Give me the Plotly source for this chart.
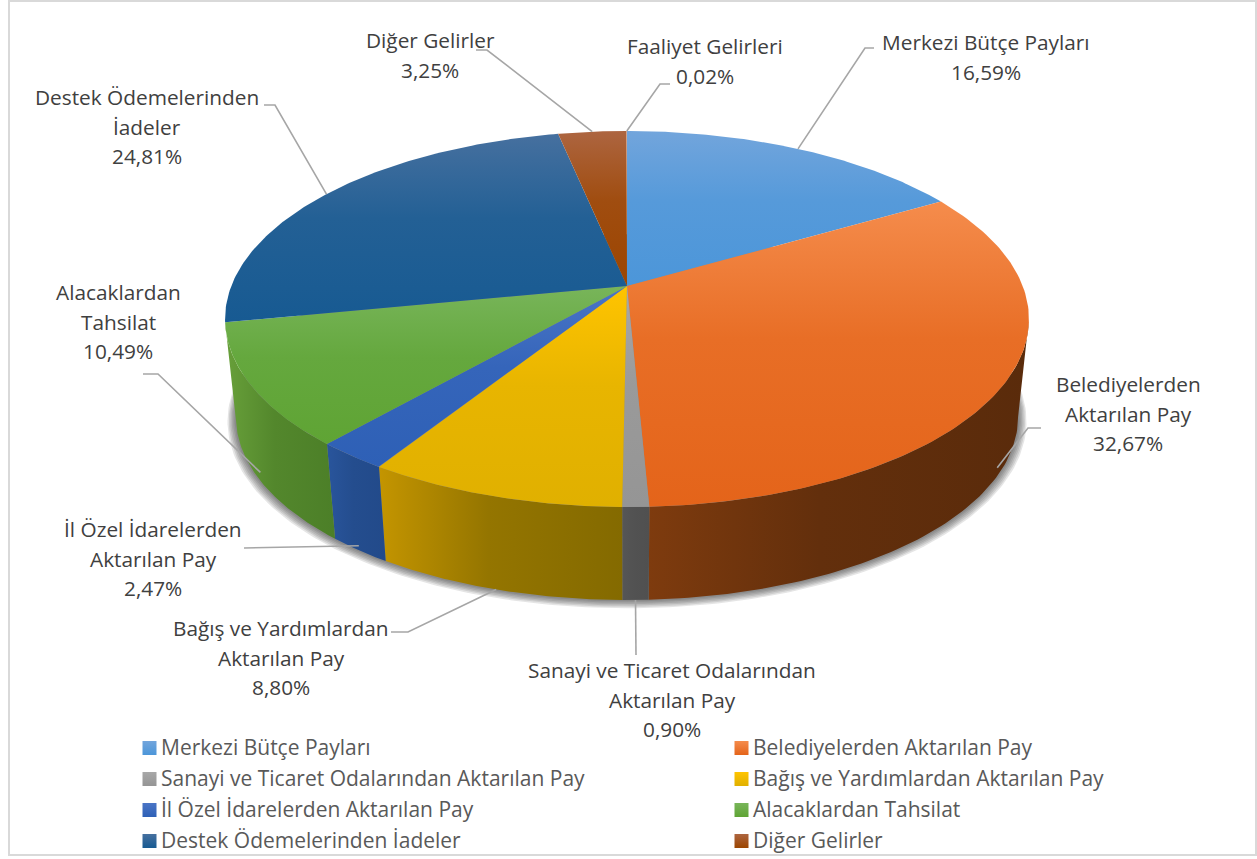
import numpy as np
import plotly.graph_objects as go

# ---- data (clockwise from 12 o'clock) ----
categories = ["Merkezi Bütçe Payları", "Belediyelerden Aktarılan Pay",
              "Sanayi ve Ticaret Odalarından Aktarılan Pay", "Bağış ve Yardımlardan Aktarılan Pay",
              "İl Özel İdarelerden Aktarılan Pay", "Alacaklardan Tahsilat",
              "Destek Ödemelerinden İadeler", "Diğer Gelirler", "Faaliyet Gelirleri"]
values = [16.59, 32.67, 0.90, 8.80, 2.47, 10.49, 24.81, 3.25, 0.02]
value_labels = ["16,59%", "32,67%", "0,90%", "8,80%", "2,47%", "10,49%", "24,81%", "3,25%", "0,02%"]
label_lines = [["Merkezi Bütçe Payları"], ["Belediyelerden", "Aktarılan Pay"],
               ["Sanayi ve Ticaret Odalarından", "Aktarılan Pay"], ["Bağış ve Yardımlardan", "Aktarılan Pay"],
               ["İl Özel İdarelerden", "Aktarılan Pay"], ["Alacaklardan", "Tahsilat"],
               ["Destek Ödemelerinden", "İadeler"], ["Diğer Gelirler"], ["Faaliyet Gelirleri"]]

# ---- styles ----
top_colors = [("#72A5DC", "#4C96D9"), ("#F58C4C", "#E4641A"), ("#A8A8A8", "#959595"), ("#FFC400", "#E0B000"),
              ("#4A75C6", "#2E60B6"), ("#78B55A", "#5FA434"), ("#46709F", "#175A92"), ("#AD6540", "#9C4500"),
              ("#5B5B5B", "#5B5B5B")]
wall_colors = [("#2F5F8F", "#2F5F8F"), ("#7E3B0E", "#5A2B0B"), ("#565656", "#505050"), ("#C49500", "#846A00"),
               ("#29559C", "#224A8A"), ("#68A03A", "#4C7F28"), ("#1C4A72", "#1C4A72"), ("#7A3608", "#7A3608"),
               ("#444444", "#444444")]
font_family = "Open Sans"
label_font_size = 20.8
legend_font_size = 21
text_color = "#404040"

# projection parameters: a circle seen in perspective
CX, CY = 627, 286
RX, RY, K = 395.7, 182.2, 0.1755
BASE_S, BASE_CY = 0.973, 385


def rim(theta, scale=1.0, cy=CY):
    u, v = np.sin(theta), np.cos(theta)
    d = 1 + K * v
    return CX + scale * RX * u / d, cy - scale * RY * v / d


def mix(c0, c1, f):
    a = [int(c0[i:i + 2], 16) for i in (1, 3, 5)]
    b = [int(c1[i:i + 2], 16) for i in (1, 3, 5)]
    return "rgb(%d,%d,%d)" % tuple(round(p + (q - p) * f) for p, q in zip(a, b))


cum = np.concatenate([[0], np.cumsum(values)]) / sum(values) * 2 * np.pi
fig = go.Figure()


def poly(x, y, colors, orient):
    x, y = np.asarray(x), np.asarray(y)
    lo, hi = (y.min(), y.max()) if orient == "vertical" else (x.min(), x.max())
    if colors[0] == colors[1] or hi - lo < 0.5:
        return go.Scatter(x=x, y=y, mode="lines", fill="toself", fillcolor=colors[0],
                          line=dict(width=0), hoverinfo="skip", showlegend=False)
    return go.Scatter(x=x, y=y, mode="lines", fill="toself",
                      fillgradient=dict(type=orient, start=lo, stop=hi,
                                        colorscale=[[0, colors[0]], [0.45, mix(colors[0], colors[1], 0.75)],
                                                    [1, colors[1]]]),
                      line=dict(width=0), hoverinfo="skip", showlegend=False)


# soft shadow under the base
all_t = np.linspace(0, 2 * np.pi, 361)
for i in range(6, 0, -1):
    sx, sy = rim(all_t, BASE_S + 0.0035 * i, BASE_CY + 0.6 * i)
    fig.add_trace(go.Scatter(x=sx, y=sy, mode="lines", fill="toself", fillcolor="rgba(40,40,40,0.12)",
                             line=dict(width=0), hoverinfo="skip", showlegend=False))

# side walls, only the part facing the viewer (between the two widest rim points)
W0, W1 = np.radians(100), cum[6]
for i in range(len(values)):
    a, b = max(cum[i], W0), min(cum[i + 1], W1)
    if b <= a:
        continue
    t = np.linspace(a, b, 80)
    x1, y1 = rim(t)
    x2, y2 = rim(t, BASE_S, BASE_CY)
    fig.add_trace(poly(np.r_[x1, x2[::-1], x1[0]], np.r_[y1, y2[::-1], y1[0]], wall_colors[i], "horizontal"))

# top faces
for i in range(len(values)):
    t = np.linspace(cum[i], cum[i + 1], 120)
    x1, y1 = rim(t)
    fig.add_trace(poly(np.r_[CX, x1, CX], np.r_[CY, y1, CY], top_colors[i], "vertical"))

# ---- data labels and leader lines ----
# label centre x, first-line centre y, leader elbow, leader end, position along the wall
label_layout = [
    (986, 42, (865, 48), (874, 48), 0),
    (1128, 384, (1028, 428), (1041, 428), 0.9),
    (672, 670, None, (636, 655), 1.0),
    (281, 628, (408, 632), (391, 632), 1.0),
    (153, 529, None, (244, 548), 0.95),
    (118, 292, (158, 374), (143, 374), 0.9),
    (147, 97, (275, 105), (264, 105), 0),
    (430, 40, (487, 50), (476, 50), 0),
    (705, 46, (660, 84), (670, 84), 0),
]
LINE_STEP = 29.7
mids = (cum[:-1] + cum[1:]) / 2
for i, (tx, ty, elbow, end, f) in enumerate(label_layout):
    m = mids[i]
    fx, fy = rim(m)
    bx, by = rim(m, BASE_S, BASE_CY)
    sx, sy = fx + (bx - fx) * f, fy + (by - fy) * f
    xs = [sx] + ([elbow[0]] if elbow else []) + [end[0]]
    ys = [sy] + ([elbow[1]] if elbow else []) + [end[1]]
    fig.add_trace(go.Scatter(x=xs, y=ys, mode="lines", line=dict(color="#A6A6A6", width=1.6),
                             hoverinfo="skip", showlegend=False))
    for j, line in enumerate(label_lines[i] + [value_labels[i]]):
        fig.add_annotation(x=tx, y=ty + j * LINE_STEP, text=line, showarrow=False, xanchor="center", yanchor="middle",
                           font=dict(family=font_family, size=label_font_size, color=text_color))

# ---- legend ----
legend_x = [149.5, 741.5]
legend_y = [748, 779, 810, 841]
for i in range(8):
    c, r = i % 2, i // 2
    fig.add_trace(go.Scatter(x=[legend_x[c]], y=[legend_y[r]], mode="markers",
                             marker=dict(symbol="square", size=14, color=top_colors[i][0],
                                         gradient=dict(type="vertical", color=top_colors[i][1]),
                                         line=dict(width=0)),
                             hoverinfo="skip", showlegend=False))
    fig.add_annotation(x=legend_x[c] + 9.5, y=legend_y[r] - 1, text=categories[i], showarrow=False,
                       xanchor="left", yanchor="middle",
                       font=dict(family=font_family, size=legend_font_size, color="#595959"))

fig.add_shape(type="rect", x0=9, y0=1, x1=1256, y1=855, line=dict(color="#D9D9D9", width=2), layer="above")
fig.update_layout(width=1257, height=859, margin=dict(l=0, r=0, t=0, b=0), autosize=False,
                  paper_bgcolor="white", plot_bgcolor="white",
                  xaxis=dict(range=[0, 1257], visible=False, fixedrange=True),
                  yaxis=dict(range=[859, 0], visible=False, fixedrange=True))
fig.write_html("out.html", config={"displayModeBar": False},
               post_script="document.body.style.margin='0';document.body.style.overflow='hidden';")
